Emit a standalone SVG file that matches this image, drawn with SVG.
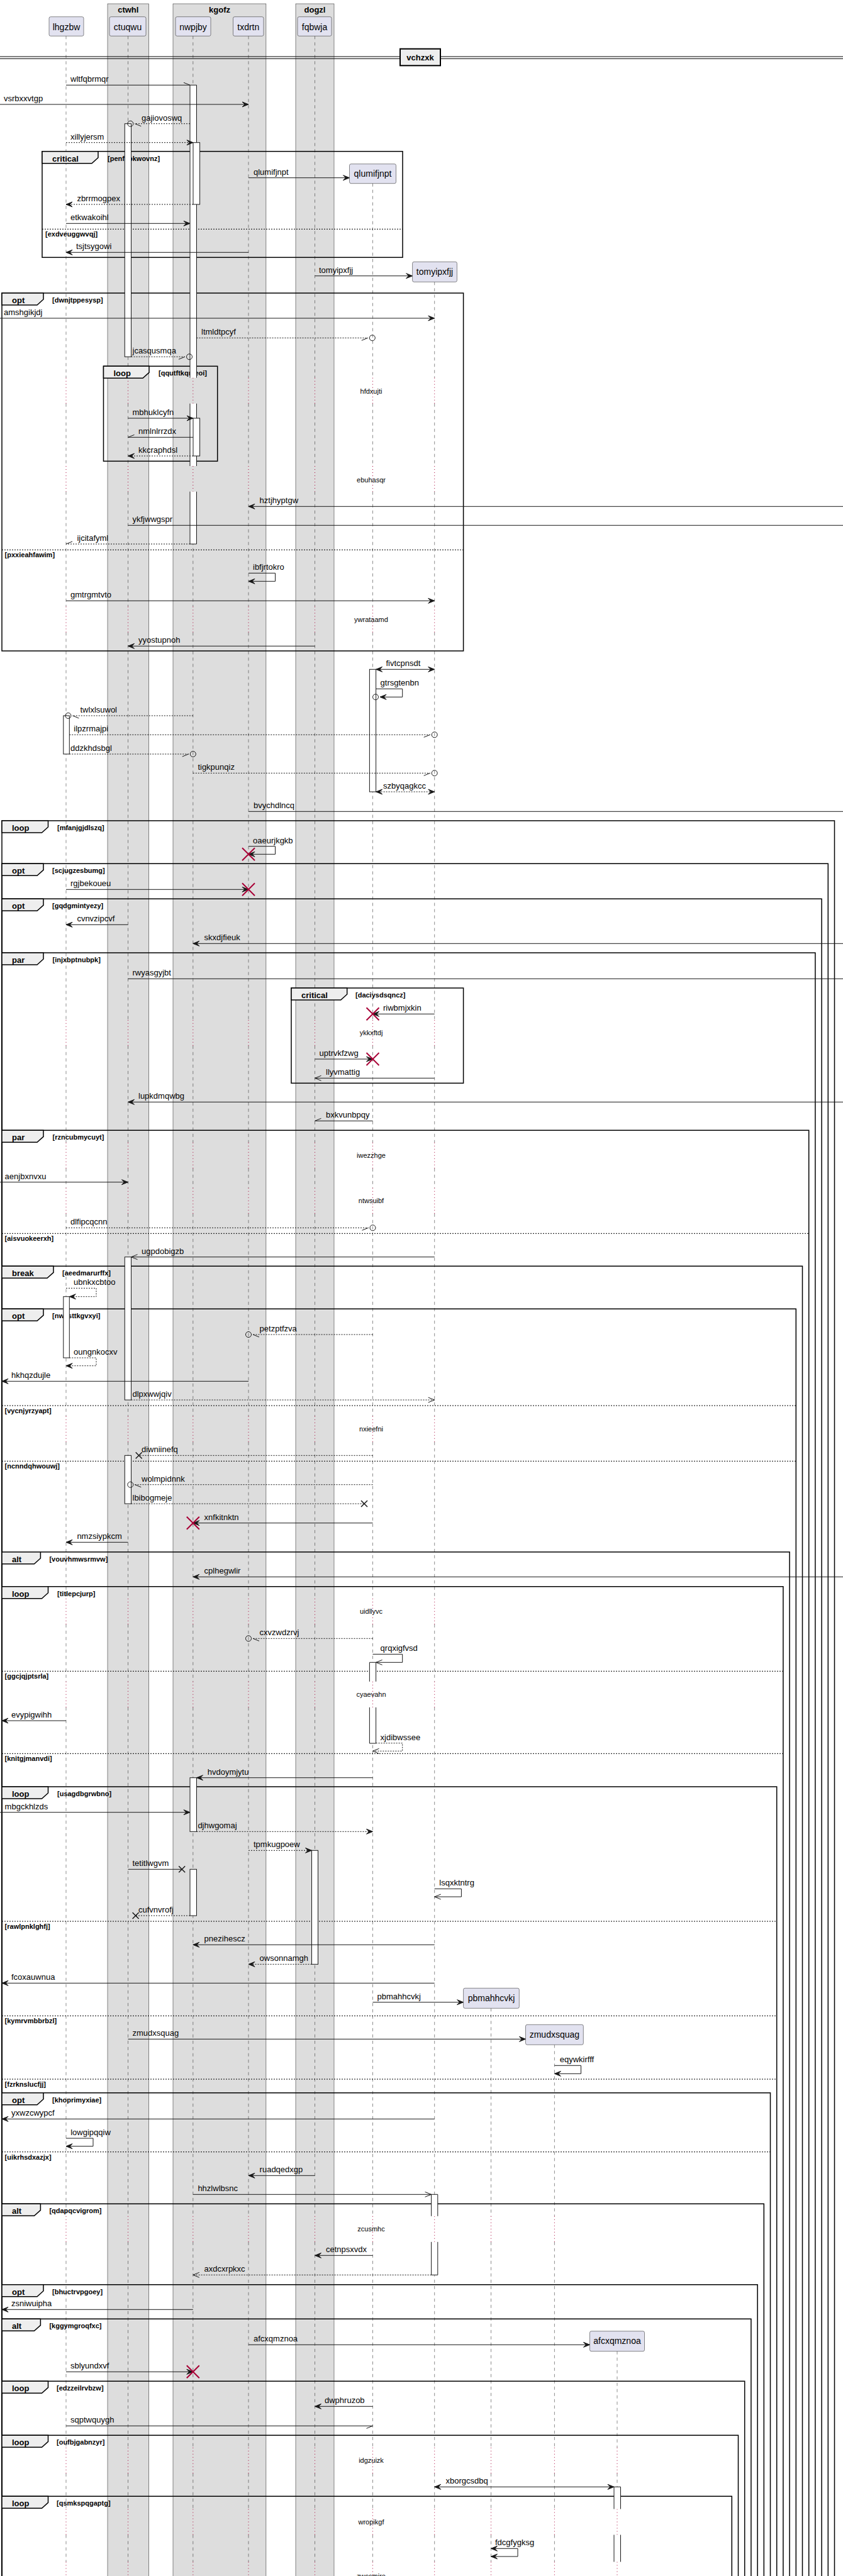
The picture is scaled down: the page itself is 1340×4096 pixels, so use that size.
<svg xmlns="http://www.w3.org/2000/svg" xmlns:xlink="http://www.w3.org/1999/xlink" width="1340" height="4096" viewBox="0 0 1340 4096">
<style>
.t{font-family:"Liberation Sans",Arial,sans-serif;font-size:13px;fill:#000}
.pt{font-family:"Liberation Sans",Arial,sans-serif;font-size:14px;fill:#000;text-anchor:middle}
.gt{font-family:"Liberation Sans",Arial,sans-serif;font-size:13px;font-weight:bold;fill:#000;text-anchor:middle}
.tb{font-family:"Liberation Sans",Arial,sans-serif;font-size:13px;font-weight:bold;fill:#000}
.cd{font-family:"Liberation Sans",Arial,sans-serif;font-size:11px;font-weight:bold;fill:#000}
.dt{font-family:"Liberation Sans",Arial,sans-serif;font-size:11px;fill:#000;text-anchor:middle}
.grp{fill:#DDDDDD;stroke:#181818;stroke-width:0.5}
.part{fill:#E2E2F0;stroke:#181818;stroke-width:0.5}
.life{fill:none;stroke:#181818;stroke-width:0.5;stroke-dasharray:5,5}
.dl{fill:none;stroke:#A80036;stroke-width:1;stroke-dasharray:1,4}
.bar{fill:#fff;stroke:#181818;stroke-width:1}
.barf{fill:#fff;stroke:none}
.bo{fill:none;stroke:#181818;stroke-width:1}
.m{fill:none;stroke:#181818;stroke-width:1}
.d{stroke-dasharray:2,2}
.fr{fill:none;stroke:#000;stroke-width:1.5}
.tab{fill:#EEEEEE;stroke:#000;stroke-width:1.5}
.sep{fill:none;stroke:#000;stroke-width:1;stroke-dasharray:2,2}
.kill{fill:none;stroke:#A80036;stroke-width:2}
.xx{fill:none;stroke:#181818;stroke-width:1.5}
.ci{fill:none;stroke:#181818;stroke-width:1}
</style>
<defs>
<marker id="f" markerWidth="12" markerHeight="10" refX="10" refY="4" orient="auto" markerUnits="userSpaceOnUse" overflow="visible"><path d="M0,0 L10,4 L0,8 L4,4 Z" fill="#181818" stroke="#181818" stroke-width="1"/></marker>
<marker id="fs" markerWidth="12" markerHeight="10" refX="10" refY="4" orient="auto-start-reverse" markerUnits="userSpaceOnUse" overflow="visible"><path d="M0,0 L10,4 L0,8 L4,4 Z" fill="#181818" stroke="#181818" stroke-width="1"/></marker>
<marker id="o" markerWidth="12" markerHeight="10" refX="10" refY="4" orient="auto" markerUnits="userSpaceOnUse" overflow="visible"><path d="M0,0 L10,4 L0,8" fill="none" stroke="#181818" stroke-width="1"/></marker>
<marker id="hA" markerWidth="12" markerHeight="10" refX="10" refY="4" orient="auto" markerUnits="userSpaceOnUse" overflow="visible"><path d="M0,0 L10,4" fill="none" stroke="#181818" stroke-width="1"/></marker>
<marker id="hB" markerWidth="12" markerHeight="10" refX="10" refY="4" orient="auto" markerUnits="userSpaceOnUse" overflow="visible"><path d="M0,8 L10,4" fill="none" stroke="#181818" stroke-width="1"/></marker>
<path id="lr" class="life" d="M0,641.7V741M0,781.7V964.5M0,1005.5V1621.8M0,1662.8V1816.8M0,1857.8V1888.8M0,1929.8V2251.8M0,2292.8V2541.8M0,2582.8V2673.8M0,2714.8V3523.8M0,3564.8V3891.8M0,3932.8V3989.5M0,4030.5V4073.5"/>
<path id="dr" class="dl" d="M0,600.7V641.7M0,741V781.7M0,964.5V1005.5M0,1621.8V1662.8M0,1816.8V1857.8M0,1888.8V1929.8M0,2251.8V2292.8M0,2541.8V2582.8M0,2673.8V2714.8M0,3523.8V3564.8M0,3891.8V3932.8M0,3989.5V4030.5M0,4073.5V4096"/>
</defs>
<rect x="0" y="0" width="1340" height="4096" fill="#fff"/>

<g id="boxes">
<g id="box-ctwhl"><rect class="grp" x="171" y="6" width="65.7" height="4100"/><text class="gt" x="203.8" y="19.5">ctwhl</text></g>
<g id="box-kgofz"><rect class="grp" x="275" y="6" width="147.9" height="4100"/><text class="gt" x="349" y="19.5">kgofz</text></g>
<g id="box-dogzl"><rect class="grp" x="470" y="6" width="61" height="4100"/><text class="gt" x="500.5" y="19.5">dogzl</text></g>
</g>

<g id="lifelines">
<path class="life" d="M105,57.3V600.7M203.5,57.3V600.7M306.8,57.3V600.7M395,57.3V600.7M500.5,57.3V600.7M592.5,291.7V600.7M690.7,448.3V600.7"/>
<use xlink:href="#lr" x="105"/><use xlink:href="#lr" x="203.5"/><use xlink:href="#lr" x="306.8"/><use xlink:href="#lr" x="395"/><use xlink:href="#lr" x="500.5"/><use xlink:href="#lr" x="592.5"/><use xlink:href="#lr" x="690.7"/>
<use xlink:href="#dr" x="105"/><use xlink:href="#dr" x="203.5"/><use xlink:href="#dr" x="306.8"/><use xlink:href="#dr" x="395"/><use xlink:href="#dr" x="500.5"/><use xlink:href="#dr" x="592.5"/><use xlink:href="#dr" x="690.7"/>
<path class="life" d="M780.5,3193.3V3523.8M780.5,3564.8V3891.8M780.5,3932.8V3989.5M780.5,4030.5V4073.5M881.4,3251.3V3523.8M881.4,3564.8V3891.8M881.4,3932.8V3989.5M881.4,4030.5V4073.5M981,3738.7V3891.8M981,3932.8V3989.5M981,4030.5V4073.5"/>
<path class="dl" d="M780.5,3523.8V3564.8M780.5,3891.8V3932.8M780.5,3989.5V4030.5M780.5,4073.5V4096M881.4,3523.8V3564.8M881.4,3891.8V3932.8M881.4,3989.5V4030.5M881.4,4073.5V4096M981,3891.8V3932.8M981,3989.5V4030.5M981,4073.5V4096"/>
</g>

<g id="divider-vchzxk">
<path d="M0,90H1340M0,93.3H1340" stroke="#000" stroke-width="1" fill="none"/>
<rect x="636" y="77.7" width="64" height="26.6" fill="#EEEEEE" stroke="#000" stroke-width="2"/>
<text class="gt" x="668" y="95.5">vchzxk</text>
</g>

<g id="delays">
<text class="dt" x="590" y="626">hfdxujti</text>
<text class="dt" x="590" y="766.7">ebuhasqr</text>
<text class="dt" x="590" y="989">ywrataamd</text>
<text class="dt" x="590" y="1646.3">ykkxftdj</text>
<text class="dt" x="590" y="1841.3">iwezzhge</text>
<text class="dt" x="590" y="1913.3">ntwsuibf</text>
<text class="dt" x="590" y="2276.3">nxieefni</text>
<text class="dt" x="590" y="2566.3">uidllyvc</text>
<text class="dt" x="590" y="2698.3">cyaevahn</text>
<text class="dt" x="590" y="3548.3">zcusmhc</text>
<text class="dt" x="590" y="3916.3">idgzuizk</text>
<text class="dt" x="590" y="4014">wropikgf</text>
<text class="dt" x="590" y="4100">zwccmire</text>
</g>

<g id="fragments">
<g id="frag-critical-1"><rect class="fr" x="67" y="240.7" width="573" height="168.6"/><polygon class="tab" points="67,240.7 156,240.7 156,250.7 146,259.7 67,259.7"/><text class="tb" x="83" y="256.7">critical</text><text class="cd" x="171" y="255.7">[penfxbkwovnz]</text><path class="sep" d="M67,364.3H640"/><text class="cd" x="72" y="376.3">[exdveuggwvqj]</text></g>
<g id="frag-opt-1"><rect class="fr" x="3" y="466" width="733.6" height="569"/><polygon class="tab" points="3,466 69,466 69,476 59,485 3,485"/><text class="tb" x="19" y="482">opt</text><text class="cd" x="83" y="481">[dwnjtppesysp]</text><path class="sep" d="M3,874.3H736.6"/><text class="cd" x="7.6" y="886.3">[pxxieahfawim]</text></g>
<g id="frag-loop-1"><rect class="fr" x="164.5" y="582.3" width="181.2" height="151"/><polygon class="tab" points="164.5,582.3 237,582.3 237,592.3 227,601.3 164.5,601.3"/><text class="tb" x="180.5" y="598.3">loop</text><text class="cd" x="252" y="597.3">[qqutftkqmeoi]</text></g>
<g id="frag-critical-2"><rect class="fr" x="463" y="1571" width="273.6" height="151.3"/><polygon class="tab" points="463,1571 551.7,1571 551.7,1581 541.7,1590 463,1590"/><text class="tb" x="479" y="1587">critical</text><text class="cd" x="565" y="1586">[daciysdsqncz]</text></g>

<g id="frag-loop-mfanjgjdlszq"><path class="fr" d="M3,4100V1305H1326.5V4100"/><polygon class="tab" points="3,1305 76.5,1305 76.5,1315 66.5,1324 3,1324"/><text class="tb" x="19" y="1321">loop</text><text class="cd" x="91" y="1320">[mfanjgjdlszq]</text></g>
<g id="frag-opt-scjugzesbumg"><path class="fr" d="M3,4100V1373.3H1316.3V4100"/><polygon class="tab" points="3,1373.3 69,1373.3 69,1383.3 59,1392.3 3,1392.3"/><text class="tb" x="19" y="1389.3">opt</text><text class="cd" x="83" y="1388.3">[scjugzesbumg]</text></g>
<g id="frag-opt-gqdgmintyezy"><path class="fr" d="M3,4100V1429.3H1306.1V4100"/><polygon class="tab" points="3,1429.3 69,1429.3 69,1439.3 59,1448.3 3,1448.3"/><text class="tb" x="19" y="1445.3">opt</text><text class="cd" x="83" y="1444.3">[gqdgmintyezy]</text></g>
<g id="frag-par-injxbptnubpk"><path class="fr" d="M3,4100V1515H1295.9V4100"/><polygon class="tab" points="3,1515 69,1515 69,1525 59,1534 3,1534"/><text class="tb" x="19" y="1531">par</text><text class="cd" x="83.5" y="1530">[injxbptnubpk]</text></g>
<g id="frag-par-rzncubmycuyt"><path class="fr" d="M3,4100V1797.3H1285.7V4100"/><polygon class="tab" points="3,1797.3 69,1797.3 69,1807.3 59,1816.3 3,1816.3"/><text class="tb" x="19" y="1813.3">par</text><text class="cd" x="83.5" y="1812.3">[rzncubmycuyt]</text><path class="sep" d="M3,1961.3H1285.7"/><text class="cd" x="7.6" y="1973.3">[aisvuokeerxh]</text></g>
<g id="frag-break-aeedmarurffx"><path class="fr" d="M3,4100V2013.3H1275.5V4100"/><polygon class="tab" points="3,2013.3 85,2013.3 85,2023.3 75,2032.3 3,2032.3"/><text class="tb" x="19" y="2029.3">break</text><text class="cd" x="99" y="2028.3">[aeedmarurffx]</text></g>
<g id="frag-opt-nwssttkgvxyi"><path class="fr" d="M3,4100V2081.3H1265.3V4100"/><polygon class="tab" points="3,2081.3 69,2081.3 69,2091.3 59,2100.3 3,2100.3"/><text class="tb" x="19" y="2097.3">opt</text><text class="cd" x="83" y="2096.3">[nwssttkgvxyi]</text><path class="sep" d="M3,2235H1265.3"/><text class="cd" x="7.6" y="2247">[vycnjyrzyapt]</text><path class="sep" d="M3,2323.3H1265.3"/><text class="cd" x="7.6" y="2335.3">[ncnndqhwouwj]</text></g>
<g id="frag-alt-vouvhmwsrmvw"><path class="fr" d="M3,4100V2467.7H1255.1V4100"/><polygon class="tab" points="3,2467.7 64.4,2467.7 64.4,2477.7 54.4,2486.7 3,2486.7"/><text class="tb" x="19" y="2483.7">alt</text><text class="cd" x="78.4" y="2482.7">[vouvhmwsrmvw]</text></g>
<g id="frag-loop-titlepcjurp"><path class="fr" d="M3,4100V2522.7H1244.9V4100"/><polygon class="tab" points="3,2522.7 76.5,2522.7 76.5,2532.7 66.5,2541.7 3,2541.7"/><text class="tb" x="19" y="2538.7">loop</text><text class="cd" x="91" y="2537.7">[titlepcjurp]</text><path class="sep" d="M3,2657.3H1244.9"/><text class="cd" x="7.6" y="2669.3">[ggcjqjptsrla]</text><path class="sep" d="M3,2788.3H1244.9"/><text class="cd" x="7.6" y="2800.3">[knitgjmanvdi]</text></g>
<g id="frag-loop-usagdbgrwbno"><path class="fr" d="M3,4100V2841H1234.7V4100"/><polygon class="tab" points="3,2841 76.5,2841 76.5,2851 66.5,2860 3,2860"/><text class="tb" x="19" y="2857">loop</text><text class="cd" x="91" y="2856">[usagdbgrwbno]</text><path class="sep" d="M3,3055H1234.7"/><text class="cd" x="7.6" y="3067">[rawlpnklghfj]</text><path class="sep" d="M3,3205.3H1234.7"/><text class="cd" x="7.6" y="3217.3">[kymrvmbbrbzl]</text><path class="sep" d="M3,3306H1234.7"/><text class="cd" x="7.6" y="3318">[fzrknslucfjj]</text></g>
<g id="frag-opt-khoprimyxiae"><path class="fr" d="M3,4100V3327.7H1224.5V4100"/><polygon class="tab" points="3,3327.7 69,3327.7 69,3337.7 59,3346.7 3,3346.7"/><text class="tb" x="19" y="3343.7">opt</text><text class="cd" x="83" y="3342.7">[khoprimyxiae]</text><path class="sep" d="M3,3421.7H1224.5"/><text class="cd" x="7.6" y="3433.7">[uikrhsdxazjx]</text></g>
<g id="frag-alt-qdapqcvigrom"><path class="fr" d="M3,4100V3504.3H1214.3V4100"/><polygon class="tab" points="3,3504.3 64.4,3504.3 64.4,3514.3 54.4,3523.3 3,3523.3"/><text class="tb" x="19" y="3520.3">alt</text><text class="cd" x="78.4" y="3519.3">[qdapqcvigrom]</text></g>
<g id="frag-opt-bhuctrvpgoey"><path class="fr" d="M3,4100V3632.7H1204.1V4100"/><polygon class="tab" points="3,3632.7 69,3632.7 69,3642.7 59,3651.7 3,3651.7"/><text class="tb" x="19" y="3648.7">opt</text><text class="cd" x="83" y="3647.7">[bhuctrvpgoey]</text></g>
<g id="frag-alt-kggymgroqfxc"><path class="fr" d="M3,4100V3687.3H1193.9V4100"/><polygon class="tab" points="3,3687.3 64.4,3687.3 64.4,3697.3 54.4,3706.3 3,3706.3"/><text class="tb" x="19" y="3703.3">alt</text><text class="cd" x="78.4" y="3702.3">[kggymgroqfxc]</text></g>
<g id="frag-loop-edzzeilrvbzw"><path class="fr" d="M3,4100V3786.3H1183.7V4100"/><polygon class="tab" points="3,3786.3 76.5,3786.3 76.5,3796.3 66.5,3805.3 3,3805.3"/><text class="tb" x="19" y="3802.3">loop</text><text class="cd" x="90" y="3801.3">[edzzeilrvbzw]</text></g>
<g id="frag-loop-oufbjgabnzyr"><path class="fr" d="M3,4100V3872.3H1173.5V4100"/><polygon class="tab" points="3,3872.3 76.5,3872.3 76.5,3882.3 66.5,3891.3 3,3891.3"/><text class="tb" x="19" y="3888.3">loop</text><text class="cd" x="90" y="3887.3">[oufbjgabnzyr]</text></g>
<g id="frag-loop-qsmkspqgaptg"><path class="fr" d="M3,4100V3969.3H1163.3V4100"/><polygon class="tab" points="3,3969.3 76.5,3969.3 76.5,3979.3 66.5,3988.3 3,3988.3"/><text class="tb" x="19" y="3985.3">loop</text><text class="cd" x="90" y="3984.3">[qsmkspqgaptg]</text></g>
</g>

<g id="activations">
<rect class="barf" x="302" y="135.3" width="10.5" height="465.4"/><rect class="barf" x="302" y="641.7" width="10.5" height="99.3"/><rect class="barf" x="302" y="781.7" width="10.5" height="83.3"/>
<path class="bo" d="M302,600.7V135.3H312.5V600.7M302,641.7V741M312.5,641.7V741M302,781.7V865H312.5V781.7"/>
<rect class="bar" x="307" y="226.7" width="10.6" height="98.3"/>
<rect class="bar" x="198.3" y="196.7" width="10.2" height="370.6"/>
<rect class="bar" x="307" y="665" width="10.6" height="60"/>
<rect class="bar" x="587.4" y="1064.3" width="10.2" height="194.7"/>
<rect class="bar" x="100.8" y="1138" width="9.5" height="61"/>
<rect class="bar" x="198.3" y="1998.7" width="10.2" height="227.3"/>
<rect class="bar" x="100.8" y="2061.7" width="9.5" height="97.3"/>
<rect class="bar" x="198.3" y="2314.3" width="10.2" height="76.7"/>
<rect class="barf" x="587.4" y="2643.3" width="10.2" height="30.5"/><rect class="barf" x="587.4" y="2714.8" width="10.2" height="57.2"/>
<path class="bo" d="M587.4,2673.8V2643.3H597.6V2673.8M587.4,2714.8V2772H597.6V2714.8"/>
<rect class="bar" x="302" y="2826.7" width="10.5" height="85.6"/>
<rect class="bar" x="495.5" y="2942.3" width="10" height="181"/>
<rect class="bar" x="302" y="2972.3" width="10.5" height="73.7"/>
<rect class="barf" x="685.6" y="3489.3" width="10.2" height="34.5"/><rect class="barf" x="685.6" y="3564.8" width="10.2" height="52.5"/>
<path class="bo" d="M685.6,3523.8V3489.3H695.8V3523.8M685.6,3564.8V3617.3H695.8V3564.8"/>
<rect class="barf" x="976" y="3954.3" width="10.5" height="35.2"/><rect class="barf" x="976" y="4030.5" width="10.5" height="43"/>
<path class="bo" d="M976,3989.5V3954.3H986.5V3989.5M976,4030.5V4073.5M986.5,4030.5V4073.5"/>
</g>

<g id="connectors">
<path class="m" d="M105,135.3H302" marker-end="url(#hA)"/><text class="t" x="112" y="130.3">wltfqbrmqr</text>
<path class="m" d="M0,166H395" marker-end="url(#f)"/><text class="t" x="6" y="161">vsrbxxvtgp</text>
<path class="m d" d="M302,196.7H214.3" marker-end="url(#hA)"/><circle class="ci" cx="207.3" cy="196.7" r="4.5"/><text class="t" x="225" y="191.7">gajiovoswq</text>
<path class="m d" d="M105,226.7H307" marker-end="url(#f)"/><text class="t" x="112" y="221.7">xillyjersm</text>
<path class="m" d="M395,282.7H555.5" marker-end="url(#f)"/><text class="t" x="403" y="277.7">qlumifjnpt</text>
<path class="m d" d="M307,325H105" marker-end="url(#f)"/><text class="t" x="122.4" y="320">zbrrmogpex</text>
<path class="m" d="M105,355.3H302" marker-end="url(#f)"/><text class="t" x="112" y="350.3">etkwakoihl</text>
<path class="m" d="M395,401.3H105" marker-end="url(#f)"/><text class="t" x="121" y="396.3">tsjtsygowi</text>
<path class="m" d="M500.5,438.7H655.6" marker-end="url(#f)"/><text class="t" x="507" y="433.7">tomyipxfjj</text>
<path class="m" d="M0,506H690.7" marker-end="url(#f)"/><text class="t" x="6" y="501">amshgikjdj</text>
<path class="m d" d="M312.5,537.3H584.8" marker-end="url(#hB)"/><circle class="ci" cx="591.8" cy="537.3" r="4.5"/><text class="t" x="320" y="532.3">ltmldtpcyf</text>
<path class="m d" d="M208.5,567.3H294" marker-end="url(#hB)"/><circle class="ci" cx="301" cy="567.3" r="4.5"/><text class="t" x="210.5" y="562.3">jcasqusmqa</text>
<path class="m" d="M203.5,665H307" marker-end="url(#f)"/><text class="t" x="210.5" y="660">mbhuklcyfn</text>
<path class="m" d="M307,695.3H203.5" marker-end="url(#hB)"/><text class="t" x="220" y="690.3">nmlnlrrzdx</text>
<path class="m d" d="M307,725H203.5" marker-end="url(#f)"/><text class="t" x="220" y="720">kkcraphdsl</text>
<path class="m" d="M1340,805.3H395" marker-end="url(#f)"/><text class="t" x="412.6" y="800.3">hztjhyptgw</text>
<path class="m" d="M203.5,835.3H1340"/><text class="t" x="210.5" y="830.3">ykfjwwgspr</text>
<path class="m d" d="M302,865H105" marker-end="url(#hB)"/><text class="t" x="122.4" y="860">ijcitafyml</text>
<path class="m" d="M395,911.3H437.5V924.3H395" marker-end="url(#f)"/><text class="t" x="402" y="906.3">ibfjrtokro</text>
<path class="m" d="M105,955.3H690.7" marker-end="url(#f)"/><text class="t" x="112" y="950.3">gmtrgmtvto</text>
<path class="m" d="M500.5,1027.3H203.5" marker-end="url(#f)"/><text class="t" x="220" y="1022.3">yyostupnoh</text>
<path class="m" d="M597.6,1064.3H690.7" marker-start="url(#fs)" marker-end="url(#fs)"/><text class="t" x="613.5" y="1059.3">fivtcpnsdt</text>
<path class="m" d="M597.6,1095.3H639.7V1108.3H604" marker-end="url(#f)"/><circle class="ci" cx="597" cy="1108.3" r="4.5"/><text class="t" x="604.6" y="1090.3">gtrsgtenbn</text>
<path class="m d" d="M306.8,1138H115.4" marker-end="url(#hA)"/><circle class="ci" cx="108.4" cy="1138" r="4.5"/><text class="t" x="127.5" y="1133">twlxlsuwol</text>
<path class="m d" d="M110.3,1168.3H683.7" marker-end="url(#hB)"/><circle class="ci" cx="690.7" cy="1168.3" r="4.5"/><text class="t" x="117.3" y="1163.3">ilpzrmajpi</text>
<path class="m d" d="M110.3,1199H299.8" marker-end="url(#hB)"/><circle class="ci" cx="306.8" cy="1199" r="4.5"/><text class="t" x="112" y="1194">ddzkhdsbgl</text>
<path class="m d" d="M306.8,1229.3H683.7" marker-end="url(#hB)"/><circle class="ci" cx="690.7" cy="1229.3" r="4.5"/><text class="t" x="314.4" y="1224.3">tigkpunqiz</text>
<path class="m d" d="M597.6,1259H690.7" marker-start="url(#fs)" marker-end="url(#fs)"/><text class="t" x="609" y="1254">szbyqagkcc</text>
<path class="m" d="M395,1290.3H1340"/><text class="t" x="403" y="1285.3">bvychdlncq</text>
<path class="m" d="M395,1345.7H437.5V1358.3H395" marker-end="url(#f)"/><path class="kill" d="M385,1348.3L405,1368.3M405,1348.3L385,1368.3"/><text class="t" x="402" y="1340.7">oaeurjkgkb</text>
<path class="m" d="M105,1414.3H395" marker-end="url(#f)"/><path class="kill" d="M385,1404.3L405,1424.3M405,1404.3L385,1424.3"/><text class="t" x="112" y="1409.3">rgjbekoueu</text>
<path class="m" d="M203.5,1470.3H105" marker-end="url(#f)"/><text class="t" x="122.4" y="1465.3">cvnvzipcvf</text>
<path class="m" d="M1340,1500.3H306.8" marker-end="url(#f)"/><text class="t" x="324.6" y="1495.3">skxdjfieuk</text>
<path class="m" d="M203.5,1556.3H1340"/><text class="t" x="210.5" y="1551.3">rwyasgyjbt</text>
<path class="m" d="M690.7,1612.3H592.5" marker-end="url(#f)"/><path class="kill" d="M582.5,1602.3L602.5,1622.3M602.5,1602.3L582.5,1622.3"/><text class="t" x="609" y="1607.3">riwbmjxkin</text>
<path class="m" d="M500.5,1684H592.5" marker-end="url(#f)"/><path class="kill" d="M582.5,1674L602.5,1694M602.5,1674L582.5,1694"/><text class="t" x="507.6" y="1679">uptrvkfzwg</text>
<path class="m" d="M690.7,1714.3H500.5" marker-end="url(#o)"/><text class="t" x="518" y="1709.3">llyvmattig</text>
<path class="m" d="M1340,1752.3H203.5" marker-end="url(#f)"/><text class="t" x="220" y="1747.3">lupkdmqwbg</text>
<path class="m" d="M592.5,1782.3H500.5" marker-end="url(#hB)"/><text class="t" x="518" y="1777.3">bxkvunbpqy</text>
<path class="m" d="M0,1879.7H203.5" marker-end="url(#f)"/><text class="t" x="7.6" y="1874.7">aenjbxnvxu</text>
<path class="m d" d="M105,1952.3H585.5" marker-end="url(#hB)"/><circle class="ci" cx="592.5" cy="1952.3" r="4.5"/><text class="t" x="112" y="1947.3">dlfipcqcnn</text>
<path class="m" d="M690.7,1998.7H208.5" marker-end="url(#o)"/><text class="t" x="225" y="1993.7">ugpdobigzb</text>
<path class="m d" d="M105,2048.3H153V2061.7H110.3" marker-end="url(#f)"/><text class="t" x="117" y="2043.3">ubnkxcbtoo</text>
<path class="m d" d="M592.5,2122H402" marker-end="url(#hA)"/><circle class="ci" cx="395" cy="2122" r="4.5"/><text class="t" x="412.6" y="2117">petzptfzva</text>
<path class="m d" d="M110.3,2159H153V2171.7H105" marker-end="url(#f)"/><text class="t" x="117" y="2154">oungnkocxv</text>
<path class="m" d="M395,2196.3H3" marker-end="url(#f)"/><text class="t" x="18" y="2191.3">hkhqzdujle</text>
<path class="m d" d="M208.5,2226H690.7" marker-end="url(#o)"/><text class="t" x="210.5" y="2221">dlpxwwjqiv</text>
<path class="m d" d="M592.5,2314.3H220.7"/><path class="xx" d="M215.7,2309.3L225.7,2319.3M225.7,2309.3L215.7,2319.3"/><text class="t" x="225" y="2309.3">diwniinefq</text>
<path class="m d" d="M592.5,2360.7H214.3" marker-end="url(#hA)"/><circle class="ci" cx="207.3" cy="2360.7" r="4.5"/><text class="t" x="225" y="2355.7">wolmpidnnk</text>
<path class="m d" d="M208.5,2391H579"/><path class="xx" d="M574,2386L584,2396M584,2386L574,2396"/><text class="t" x="210.5" y="2386">lbibogmeje</text>
<path class="m" d="M592.5,2421.7H306.8" marker-end="url(#f)"/><path class="kill" d="M296.8,2411.7L316.8,2431.7M316.8,2411.7L296.8,2431.7"/><text class="t" x="324.6" y="2416.7">xnfkitnktn</text>
<path class="m" d="M203.5,2452.3H105" marker-end="url(#f)"/><text class="t" x="122.4" y="2447.3">nmzsiypkcm</text>
<path class="m" d="M1340,2507.3H306.8" marker-end="url(#f)"/><text class="t" x="324.6" y="2502.3">cplhegwlir</text>
<path class="m d" d="M592.5,2605.3H402" marker-end="url(#hA)"/><circle class="ci" cx="395" cy="2605.3" r="4.5"/><text class="t" x="412.6" y="2600.3">cxvzwdzrvj</text>
<path class="m" d="M592.5,2630.3H639.7V2643.3H597.6" marker-end="url(#o)"/><text class="t" x="604.6" y="2625.3">qrqxigfvsd</text>
<path class="m" d="M105,2736H3" marker-end="url(#f)"/><text class="t" x="18" y="2731">evypigwihh</text>
<path class="m d" d="M597.6,2771.7H639.7V2784.3H592.5" marker-end="url(#o)"/><text class="t" x="604.6" y="2766.7">xjdibwssee</text>
<path class="m" d="M592.5,2826.7H312.5" marker-end="url(#f)"/><text class="t" x="329.7" y="2821.7">hvdoymjytu</text>
<path class="m" d="M0,2881.7H302" marker-end="url(#f)"/><text class="t" x="7.6" y="2876.7">mbgckhlzds</text>
<path class="m d" d="M312.5,2912.3H592.5" marker-end="url(#f)"/><text class="t" x="314.4" y="2907.3">djhwgomaj</text>
<path class="m d" d="M395,2942.3H495.5" marker-end="url(#f)"/><text class="t" x="403" y="2937.3">tpmkugpoew</text>
<path class="m" d="M203.5,2972.3H289.2"/><path class="xx" d="M284.2,2967.3L294.2,2977.3M294.2,2967.3L284.2,2977.3"/><text class="t" x="210.5" y="2967.3">tetitlwgvm</text>
<path class="m" d="M690.7,3003.3H733.4V3016H690.7" marker-end="url(#o)"/><text class="t" x="698.3" y="2998.3">lsqxktntrg</text>
<path class="m d" d="M302,3046H215.6"/><path class="xx" d="M210.6,3041L220.6,3051M220.6,3041L210.6,3051"/><text class="t" x="220" y="3041">cufvnvrofj</text>
<path class="m" d="M690.7,3092.3H306.8" marker-end="url(#f)"/><text class="t" x="324.6" y="3087.3">pnezihescz</text>
<path class="m d" d="M495.5,3123.3H395" marker-end="url(#f)"/><text class="t" x="412.6" y="3118.3">owsonnamgh</text>
<path class="m" d="M690.7,3153.3H3" marker-end="url(#f)"/><text class="t" x="18" y="3148.3">fcoxauwnua</text>
<path class="m" d="M592.5,3183.7H736.6" marker-end="url(#f)"/><text class="t" x="599.5" y="3178.7">pbmahhcvkj</text>
<path class="m" d="M203.5,3242.3H835.5" marker-end="url(#f)"/><text class="t" x="210.5" y="3237.3">zmudxsquag</text>
<path class="m" d="M881.4,3284.3H923.5V3297.3H881.4" marker-end="url(#f)"/><text class="t" x="889.7" y="3279.3">eqywkirfff</text>
<path class="m" d="M690.7,3369.3H3" marker-end="url(#f)"/><text class="t" x="18" y="3364.3">yxwzcwypcf</text>
<path class="m" d="M105,3400H148V3412.7H105" marker-end="url(#f)"/><text class="t" x="112.2" y="3395">lowgipqqiw</text>
<path class="m" d="M500.5,3459.3H395" marker-end="url(#f)"/><text class="t" x="412.6" y="3454.3">ruadqedxgp</text>
<path class="m" d="M306.8,3489.3H685.6" marker-end="url(#o)"/><text class="t" x="314.4" y="3484.3">hhzlwlbsnc</text>
<path class="m" d="M592.5,3586.3H500.5" marker-end="url(#f)"/><text class="t" x="518" y="3581.3">cetnpsxvdx</text>
<path class="m d" d="M685.6,3617.3H306.8" marker-end="url(#o)"/><text class="t" x="324.6" y="3612.3">axdcxrpkxc</text>
<path class="m" d="M306.8,3672.3H3" marker-end="url(#f)"/><text class="t" x="18" y="3667.3">zsniwuipha</text>
<path class="m" d="M395,3728.3H937.5" marker-end="url(#f)"/><text class="t" x="403" y="3723.3">afcxqmznoa</text>
<path class="m" d="M105,3771.3H306.8" marker-end="url(#f)"/><path class="kill" d="M296.8,3761.3L316.8,3781.3M316.8,3761.3L296.8,3781.3"/><text class="t" x="112" y="3766.3">sblyundxvf</text>
<path class="m" d="M592.5,3826.3H500.5" marker-end="url(#f)"/><text class="t" x="516" y="3821.3">dwphruzob</text>
<path class="m" d="M105,3857.3H592.5" marker-end="url(#hB)"/><text class="t" x="112" y="3852.3">sqptwquygh</text>
<path class="m" d="M690.7,3954.3H976" marker-start="url(#fs)" marker-end="url(#fs)"/><text class="t" x="708.5" y="3949.3">xborgcsdbq</text>
<path class="m" d="M780.5,4052.3H823V4065H780.5" marker-start="url(#fs)" marker-end="url(#fs)"/><text class="t" x="787" y="4047.3">fdcgfygksg</text>
</g>

<g id="participants">
<g id="p-lhgzbw"><rect class="part" x="78" y="26.7" width="55" height="30.6" rx="2.5"/><text class="pt" x="105.5" y="47.5">lhgzbw</text></g>
<g id="p-ctuqwu"><rect class="part" x="174" y="26.7" width="58" height="30.6" rx="2.5"/><text class="pt" x="203" y="47.5">ctuqwu</text></g>
<g id="p-nwpjby"><rect class="part" x="279" y="26.7" width="56" height="30.6" rx="2.5"/><text class="pt" x="307" y="47.5">nwpjby</text></g>
<g id="p-txdrtn"><rect class="part" x="370.5" y="26.7" width="48.5" height="30.6" rx="2.5"/><text class="pt" x="394.8" y="47.5">txdrtn</text></g>
<g id="p-fqbwja"><rect class="part" x="473" y="26.7" width="54" height="30.6" rx="2.5"/><text class="pt" x="500" y="47.5">fqbwja</text></g>
<g id="p-qlumifjnpt"><rect class="part" x="555.5" y="260.7" width="74" height="31" rx="2.5"/><text class="pt" x="592.5" y="281">qlumifjnpt</text></g>
<g id="p-tomyipxfjj"><rect class="part" x="655.6" y="416.3" width="70.8" height="32" rx="2.5"/><text class="pt" x="691" y="437">tomyipxfjj</text></g>
<g id="p-pbmahhcvkj"><rect class="part" x="736.6" y="3161.3" width="88.7" height="32" rx="2.5"/><text class="pt" x="781" y="3182">pbmahhcvkj</text></g>
<g id="p-zmudxsquag"><rect class="part" x="835.5" y="3219.3" width="91.8" height="32" rx="2.5"/><text class="pt" x="881.4" y="3240">zmudxsquag</text></g>
<g id="p-afcxqmznoa"><rect class="part" x="937.5" y="3706.7" width="87" height="32" rx="2.5"/><text class="pt" x="981" y="3727">afcxqmznoa</text></g>
</g>
</svg>
